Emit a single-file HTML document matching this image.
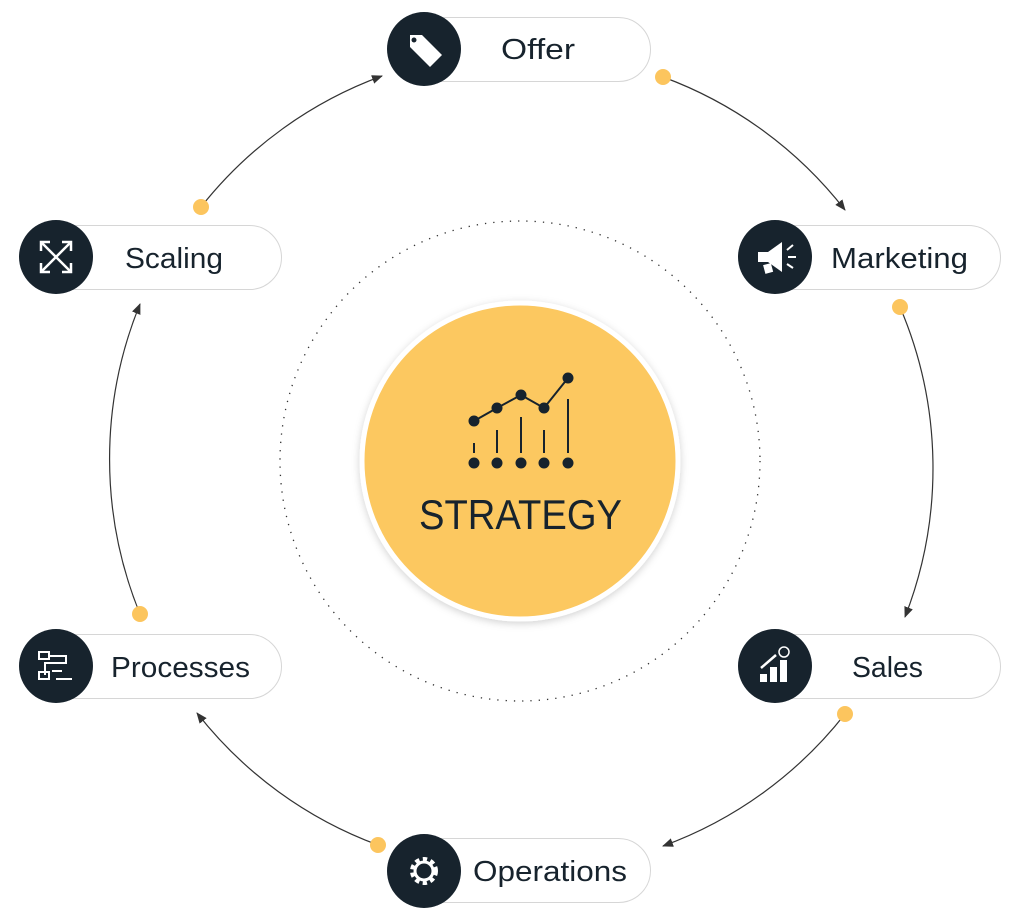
<!DOCTYPE html>
<html><head><meta charset="utf-8"><style>
html,body{margin:0;padding:0;background:#fff;}
body{width:1024px;height:922px;position:relative;overflow:hidden;font-family:"Liberation Sans",sans-serif;}
.pill{position:absolute;height:65px;border:1.5px solid #d6d6d6;border-radius:34px;background:#fff;box-sizing:border-box;}
</style></head><body>
<svg width="1024" height="922" style="position:absolute;left:0;top:0">
<defs>
<marker id="ah" markerWidth="12" markerHeight="12" refX="10" refY="6" orient="auto" markerUnits="userSpaceOnUse">
<path d="M0,1.5 L11,6 L0,10.5 z" fill="#333"/></marker>
<filter id="sh" x="-20%" y="-20%" width="140%" height="140%"><feDropShadow dx="0" dy="2" stdDeviation="4" flood-color="#000" flood-opacity="0.18"/></filter>
</defs>
<circle cx="520" cy="461" r="240" fill="none" stroke="#333" stroke-width="1.3" stroke-dasharray="1.3 7"/>
<g fill="none" stroke="#333" stroke-width="1.2">
<path d="M663,77 A410,410 0 0 1 845,210" marker-end="url(#ah)"/>
<path d="M900,307 A410,410 0 0 1 905,617" marker-end="url(#ah)"/>
<path d="M845,714 A410,410 0 0 1 663,846" marker-end="url(#ah)"/>
<path d="M378,845 A410,410 0 0 1 197,713" marker-end="url(#ah)"/>
<path d="M140,614 A410,410 0 0 1 140,304" marker-end="url(#ah)"/>
<path d="M201,207 A410,410 0 0 1 382,76" marker-end="url(#ah)"/>
</g>
<g fill="#fcc55e">
<circle cx="663" cy="77" r="8"/><circle cx="900" cy="307" r="8"/><circle cx="845" cy="714" r="8"/>
<circle cx="378" cy="845" r="8"/><circle cx="140" cy="614" r="8"/><circle cx="201" cy="207" r="8"/>
</g>
<circle cx="520" cy="461" r="158" fill="#fcc860" stroke="#fff" stroke-width="5" filter="url(#sh)"/>
<g stroke="#17232d" stroke-width="2" fill="#17232d">
<polyline points="474,421 497,408 521,395 544,408 568,378" fill="none"/>
<circle cx="474" cy="421" r="4.5"/><circle cx="497" cy="408" r="4.5"/><circle cx="521" cy="395" r="4.5"/><circle cx="544" cy="408" r="4.5"/><circle cx="568" cy="378" r="4.5"/>
<line x1="474" y1="443" x2="474" y2="453"/><line x1="497" y1="430" x2="497" y2="453"/><line x1="521" y1="417" x2="521" y2="453"/><line x1="544" y1="430" x2="544" y2="453"/><line x1="568" y1="399" x2="568" y2="453"/>
<circle cx="474" cy="463" r="4.5"/><circle cx="497" cy="463" r="4.5"/><circle cx="521" cy="463" r="4.5"/><circle cx="544" cy="463" r="4.5"/><circle cx="568" cy="463" r="4.5"/>
</g>
<text x="419" y="529" textLength="203" lengthAdjust="spacingAndGlyphs" font-family="Liberation Sans, sans-serif" font-size="42" fill="#17232d">STRATEGY</text>
</svg>

<div class="pill" style="left:388px;top:17px;width:263px"></div>
<div class="pill" style="left:740px;top:225px;width:261px"></div>
<div class="pill" style="left:740px;top:634px;width:261px"></div>
<div class="pill" style="left:388px;top:838px;width:263px"></div>
<div class="pill" style="left:20px;top:634px;width:262px"></div>
<div class="pill" style="left:20px;top:225px;width:262px"></div>

<svg width="1024" height="922" style="position:absolute;left:0;top:0">
<g font-family="Liberation Sans, sans-serif" font-size="29" fill="#17232d" lengthAdjust="spacingAndGlyphs">
<text x="501" y="59" textLength="74" lengthAdjust="spacingAndGlyphs">Offer</text>
<text x="831" y="268" textLength="137" lengthAdjust="spacingAndGlyphs">Marketing</text>
<text x="852" y="677" textLength="71" lengthAdjust="spacingAndGlyphs">Sales</text>
<text x="473" y="881" textLength="154" lengthAdjust="spacingAndGlyphs">Operations</text>
<text x="111" y="677" textLength="139" lengthAdjust="spacingAndGlyphs">Processes</text>
<text x="125" y="268" textLength="98" lengthAdjust="spacingAndGlyphs">Scaling</text>
</g>
<g fill="#17232d">
<circle cx="424" cy="49" r="37"/><circle cx="775" cy="257" r="37"/><circle cx="775" cy="666" r="37"/>
<circle cx="424" cy="871" r="37"/><circle cx="56" cy="666" r="37"/><circle cx="56" cy="257" r="37"/>
</g>
<path d="M410,35 L422,35 L442,55 L430,67 L410,47 Z" fill="#fff"/><circle cx="414" cy="40" r="2.5" fill="#17232d"/>
<g fill="#fff"><path d="M758,252 L768,252 L782,242 L782,272 L768,262 L758,262 Z"/><rect x="764" y="264" width="8" height="9" transform="rotate(-15 768 268)"/></g>
<g stroke="#fff" stroke-width="2"><line x1="787" y1="250" x2="793" y2="245"/><line x1="788" y1="257" x2="796" y2="257"/><line x1="787" y1="264" x2="793" y2="268"/></g>
<g fill="#fff"><rect x="760" y="674" width="7" height="8"/><rect x="770" y="667" width="7" height="15"/><rect x="780" y="660" width="7" height="22"/></g>
<path d="M761,668 L776,655" stroke="#fff" stroke-width="2.5"/><circle cx="784" cy="652" r="5" fill="none" stroke="#fff" stroke-width="1.5"/>
<circle cx="424" cy="871" r="11" fill="none" stroke="#fff" stroke-width="6" stroke-dasharray="4 3.2"/>
<circle cx="424" cy="871" r="9" fill="none" stroke="#fff" stroke-width="3"/>
<g fill="none" stroke="#fff" stroke-width="2"><rect x="39" y="652" width="10" height="7"/><rect x="39" y="672" width="10" height="7"/><path d="M49,656 H66 V663 H45 V675"/><path d="M62,671 H52"/><path d="M56,679 H72"/></g>
<g stroke="#fff" stroke-width="2.5" fill="none"><line x1="42" y1="243" x2="70" y2="271"/><line x1="70" y1="243" x2="42" y2="271"/>
<path d="M41,251 V242 H50 M62,242 H71 V251 M71,263 V272 H62 M50,272 H41 V263"/></g>
</svg>
</body></html>
